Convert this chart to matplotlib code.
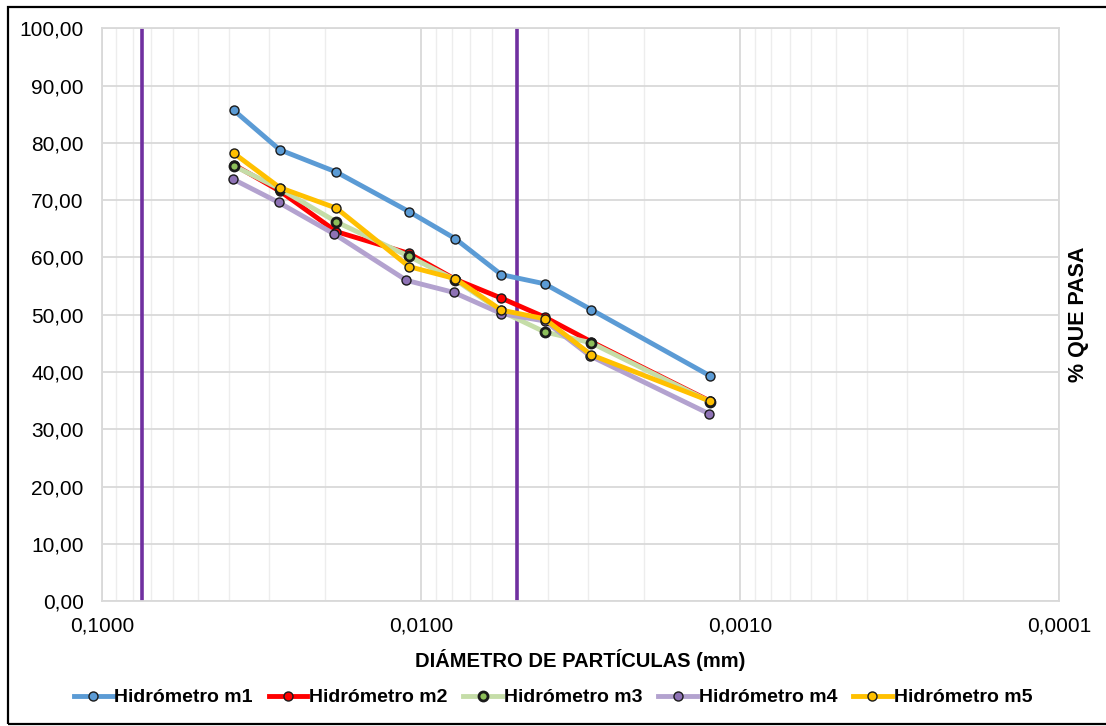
import matplotlib
matplotlib.use('Agg')
import matplotlib.pyplot as plt
from matplotlib.ticker import FixedLocator, FuncFormatter, LogLocator, NullFormatter
from matplotlib.patches import Rectangle

plt.rcParams['font.family'] = ['Liberation Sans', 'DejaVu Sans']

# diámetros (mm) y % que pasa
diam = [0.0386, 0.0277, 0.0184, 0.0109, 0.00782, 0.00560, 0.00410, 0.00293, 0.00124]
diam_m4 = [0.0389, 0.0279, 0.0187, 0.0111, 0.00790, 0.00560, 0.00409, 0.00295, 0.00125]

m1 = [85.7, 78.8, 74.9, 68.0, 63.3, 57.0, 55.4, 50.9, 39.3]
m2 = [76.2, 71.6, 64.5, 60.7, 56.2, 52.9, 49.6, 45.3, 34.9]
m3 = [76.0, 72.0, 66.2, 60.2, 56.1, 50.6, 47.0, 45.1, 34.8]
m4 = [73.7, 69.6, 64.1, 56.0, 53.9, 50.2, 48.9, 42.8, 32.7]
m5 = [78.2, 72.2, 68.6, 58.4, 56.3, 50.8, 49.3, 43.0, 34.9]

limites = [0.075, 0.005]

series = [
    ('Hidrómetro m1', diam, m1, '#5B9BD5', '#5B9BD5', 1.0),
    ('Hidrómetro m2', diam, m2, '#FF0000', '#FF0000', 1.0),
    ('Hidrómetro m3', diam, m3, '#C5DDA8', '#8DBF5A', 2.0),
    ('Hidrómetro m4', diam_m4, m4, '#B3A2CF', '#8E72B5', 1.0),
    ('Hidrómetro m5', diam, m5, '#FFC000', '#FFC000', 1.0),
]

fig = plt.figure(figsize=(11.06, 7.26), dpi=100)
ax = fig.add_axes([0.092, 0.172, 0.8658, 0.789])

ax.set_xscale('log')
ax.set_xlim(0.1, 0.0001)
ax.set_ylim(0, 100)

ax.xaxis.set_major_locator(FixedLocator([0.1, 0.01, 0.001, 0.0001]))
ax.xaxis.set_major_formatter(FuncFormatter(lambda v, p: ('%.4f' % v).replace('.', ',')))
ax.xaxis.set_minor_locator(LogLocator(base=10, subs=range(2, 10)))
ax.xaxis.set_minor_formatter(NullFormatter())
ax.yaxis.set_major_locator(FixedLocator(range(0, 101, 10)))
ax.yaxis.set_major_formatter(FuncFormatter(lambda v, p: ('%.2f' % v).replace('.', ',')))

ax.grid(True, which='major', axis='both', color='#D9D9D9', lw=1.3)
ax.grid(True, which='minor', axis='x', color='#EDEDED', lw=1.0)
ax.set_axisbelow(True)
ax.tick_params(which='both', length=0, labelsize=15, colors='black')
ax.tick_params(axis='x', pad=11)
ax.tick_params(axis='y', pad=13)
for s in ax.spines.values():
    s.set_color('#D9D9D9')
    s.set_linewidth(1.3)

for x in limites:
    ax.axvline(x, color='#7030A0', lw=2.6, zorder=1.5)

for name, xs, ys, lc, mc, mew in series:
    ax.plot(xs, ys, color=lc, lw=3.5, marker='o', ms=6.5, mfc=mc,
            mec='#1a1a1a', mew=mew, label=name, zorder=3)

ax.set_xlabel('DIÁMETRO DE PARTÍCULAS (mm)', fontsize=14.5, fontweight='bold', labelpad=10)
fig.text(0.975, 0.567, '% QUE PASA', rotation=90, ha='center', va='center',
         fontsize=15.5, fontweight='bold')

leg = fig.legend(loc='center', bbox_to_anchor=(0.5, 0.039), ncol=5, frameon=False,
                 prop={'size': 14, 'weight': 'bold'}, handlelength=2.0,
                 handletextpad=0.1, columnspacing=0.8)

fig.patches.append(Rectangle((8 / 1106, 2 / 726), 1.2, 717 / 726, transform=fig.transFigure,
                             fill=False, edgecolor='black', lw=1.6))

fig.savefig('out.png', dpi=100)
